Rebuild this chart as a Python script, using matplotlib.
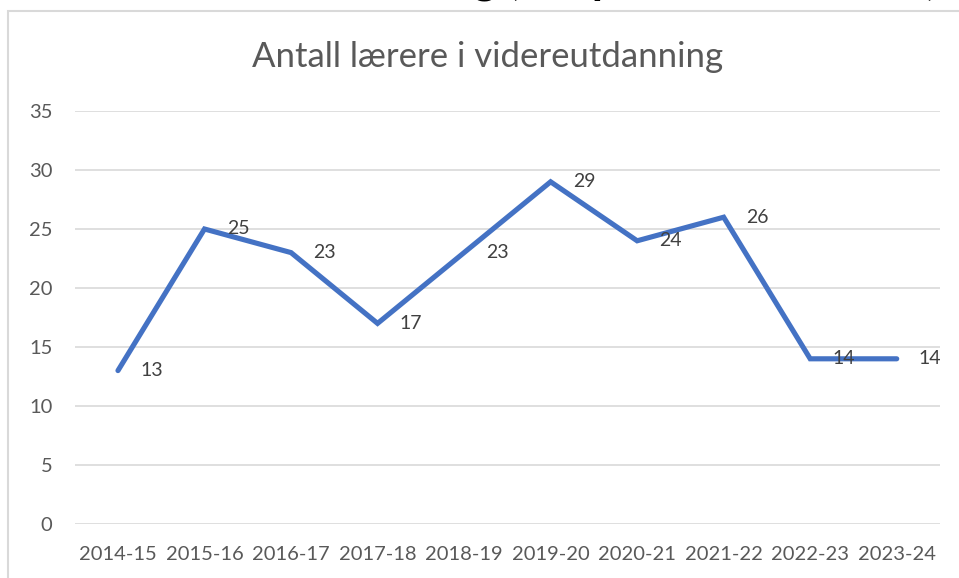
import matplotlib
matplotlib.use("Agg")
import matplotlib.pyplot as plt
from matplotlib.patches import Rectangle

categories = ["2014-15", "2015-16", "2016-17", "2017-18", "2018-19",
              "2019-20", "2020-21", "2021-22", "2022-23", "2023-24"]
values = [13, 25, 23, 17, 23, 29, 24, 26, 14, 14]
yticks = [0, 5, 10, 15, 20, 25, 30, 35]
title = "Antall lærere i videreutdanning"
heading = "Lærere i videreutdanning (tall per skoleår 2024)"

plt.rcParams['font.family'] = ['Lato', 'DejaVu Sans']

W, H = 959, 578
fig = plt.figure(figsize=(W / 100, H / 100), dpi=100)

# chart area border (cropped on right/bottom)
fig.patches.append(Rectangle((8 / W, -0.1), 1.2, (H - 11) / H + 0.1,
                             transform=fig.transFigure, fill=False,
                             edgecolor='#D9D9D9', linewidth=1.5))

# cropped page heading above the chart (only its lowest part is visible)
fig.text(938 / W, 1 + 6 / H, heading, ha='right', va='baseline',
         fontsize=32, fontweight='bold', color='black')

left, right = 74.7 / W, 940 / W
bottom, top = (H - 524) / H, (H - 111) / H
ax = fig.add_axes([left, bottom, right - left, top - bottom])

x = list(range(len(categories)))
ax.plot(x, values, color='#4472C4', linewidth=3.7, solid_capstyle='round',
        solid_joinstyle='miter')
for xi, v in zip(x, values):
    ax.annotate(str(v), (xi, v), xytext=(16, 0), textcoords='offset points',
                ha='left', va='center', fontsize=14, color='#404040')

ax.set_xlim(-0.5, len(categories) - 0.5)
ax.set_ylim(0, 35)
ax.set_yticks(yticks)
ax.set_xticks(x)
ax.set_xticklabels(categories)
ax.grid(axis='y', color='#D9D9D9', linewidth=1.2)
ax.set_axisbelow(True)
for s in ax.spines.values():
    s.set_visible(False)
ax.tick_params(axis='both', length=0, labelsize=14.5, labelcolor='#595959')
ax.tick_params(axis='y', pad=16)
ax.tick_params(axis='x', pad=16)

fig.text(488 / W, 1 - 57 / H, title, ha='center', va='center',
         fontsize=25, color='#595959')

fig.savefig("out.png", dpi=100)
